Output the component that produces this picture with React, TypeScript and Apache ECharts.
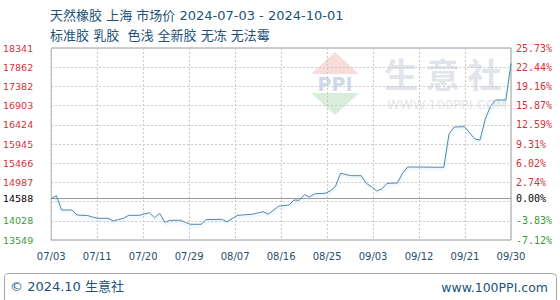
import React, { useEffect, useRef } from "react";
import * as echarts from "echarts";

// ---- data ----
const titleText = "天然橡胶 上海 市场价 2024-07-03 - 2024-10-01";
const subtitleText = "标准胶 乳胶  色浅 全新胶 无冻 无法霉";
const footerLeft = "© 2024.10 生意社";
const footerRight = "www.100PPI.com";

// day offset from 2024-07-03
const days = [0, 1, 2, 4, 5, 7, 8, 9, 11, 12, 13, 14, 15, 17, 19, 20, 21, 22, 23, 25, 26, 27, 29, 30, 33, 34, 36, 39, 41, 42, 44, 46, 47, 48, 49, 50, 51, 53, 54, 55, 56, 58, 60, 61, 62, 63, 64, 65, 67, 68, 69, 76, 77, 78, 80, 82, 83, 84, 85, 86, 88, 89];
const prices = [14588, 14652, 14298, 14298, 14173, 14160, 14123, 14091, 14091, 14023, 14060, 14091, 14165, 14165, 14230, 14105, 14215, 13990, 14040, 14043, 13986, 13941, 13941, 14058, 14066, 14003, 14163, 14193, 14255, 14193, 14390, 14423, 14547, 14540, 14680, 14622, 14702, 14715, 14772, 14879, 15214, 15154, 15154, 14964, 14879, 14772, 14822, 14964, 14972, 15214, 15371, 15364, 16195, 16370, 16377, 16070, 16045, 16560, 16880, 17043, 17043, 17959];

const spanDays = 89;
const xTickLabels = ["07/03", "07/11", "07/20", "07/29", "08/07", "08/16", "08/25", "09/03", "09/12", "09/21", "09/30"];

const baseValue = 14588;
const yMin = 13549;
const yMax = 18341;
const yGridValues = [13549, 14028, 14507, 14987, 15466, 15945, 16424, 16903, 17382, 17862, 18341];
const yLabelValues = [13549, 14028, 14588, 14987, 15466, 15945, 16424, 16903, 17382, 17862, 18341];
const pctLabels = ["-7.12%", "-3.83%", "0.00%", "2.74%", "6.02%", "9.31%", "12.59%", "15.87%", "19.16%", "22.44%", "25.73%"];

const UP = "#d3323a";
const DOWN = "#3a9a3a";
const BASE = "#000000";
const TEXT_BLUE = "#22527a";

function labelColor(v: any) {
  const n = Number(v);
  if (Math.abs(n - baseValue) < 0.5) return BASE;
  return n > baseValue ? UP : DOWN;
}

export default function App() {
  const ref = useRef<HTMLDivElement>(null);
  useEffect(() => {
    if (!ref.current) return;
    const chart = echarts.init(ref.current, null, { renderer: "svg" });
    const xTickPos = xTickLabels.map((_, i) => (i * spanDays) / (xTickLabels.length - 1));
    const cjk = "DejaVu Sans, 'Noto Sans CJK SC', sans-serif";
    chart.setOption({
      animation: false,
      backgroundColor: "#ffffff",
      grid: {
        left: 51,
        right: 49,
        top: 48,
        bottom: 60,
        show: true,
        borderColor: "#9a9a9a",
        borderWidth: 1,
        backgroundColor: "transparent",
      },
      xAxis: {
        type: "value",
        min: 0,
        max: spanDays,
        axisLine: { show: false },
        axisTick: { show: false, customValues: xTickPos },
        axisLabel: {
          customValues: xTickPos,
          formatter: (v: number) => xTickLabels[Math.round((v * (xTickLabels.length - 1)) / spanDays)],
          color: "#2a4c6c",
          fontSize: 10,
          fontFamily: "DejaVu Sans",
          margin: 11,
        },
        splitLine: { show: true, lineStyle: { type: [2, 2], color: "#c8c8c8", width: 1 } },
      },
      yAxis: [
        {
          type: "value",
          min: yMin,
          max: yMax,
          position: "left",
          axisLine: { show: false },
          axisTick: { show: false, customValues: yGridValues },
          splitLine: { show: true, lineStyle: { type: [2, 2], color: "#c8c8c8", width: 1 } },
          axisLabel: {
            customValues: yLabelValues,
            formatter: (v: number) => String(Math.round(v)),
            color: (v: any) => labelColor(v),
            fontSize: 9.5,
            fontFamily: "DejaVu Sans",
            margin: 18,
          },
        },
        {
          type: "value",
          min: yMin,
          max: yMax,
          position: "right",
          axisLine: { show: false },
          axisTick: { show: false, customValues: yGridValues },
          splitLine: { show: false },
          axisLabel: {
            customValues: yLabelValues,
            formatter: (v: number) => {
              const idx = yLabelValues.findIndex((y) => Math.abs(y - v) < 0.5);
              return idx >= 0 ? pctLabels[idx] : "";
            },
            color: (v: any) => labelColor(v),
            fontSize: 10,
            fontFamily: "DejaVu Sans Mono",
            margin: 5,
          },
        },
      ],
      series: [
        {
          type: "line",
          yAxisIndex: 0,
          data: days.map((d, i) => [d, prices[i]]),
          showSymbol: false,
          symbol: "none",
          lineStyle: {
            color: "#4e87ab",
            width: 1,
            shadowColor: "rgba(120,200,235,0.45)",
            shadowBlur: 3,
            shadowOffsetY: 2,
          },
          markLine: {
            silent: true,
            symbol: "none",
            label: { show: false },
            lineStyle: { color: "#9a9a9a", type: "solid", width: 1 },
            data: [{ yAxis: baseValue }],
          },
          z: 5,
        },
      ],
      graphic: [
        // watermark logo
        {
          type: "polygon",
          z: -10,
          silent: true,
          shape: { points: [[311, 74], [335, 52], [359, 74]] },
          style: { fill: "#f7dcda" },
        },
        {
          type: "polygon",
          z: -10,
          silent: true,
          shape: { points: [[311, 93], [359, 93], [335, 115]] },
          style: { fill: "#d9eed9" },
        },
        {
          type: "text",
          z: -10,
          silent: true,
          x: 335,
          y: 84,
          style: {
            text: "PPI",
            fill: "#cfd9ea",
            font: "bold 19px DejaVu Sans",
            align: "center",
            verticalAlign: "middle",
          },
        },
        {
          type: "text",
          z: -10,
          silent: true,
          x: 384,
          y: 73,
          style: {
            text: "生 意 社",
            fill: "#e1e4ea",
            font: "bold 34px 'Noto Sans CJK SC'",
            verticalAlign: "middle",
          },
        },
        {
          type: "text",
          z: -10,
          silent: true,
          x: 387,
          y: 104,
          style: {
            text: "WWW.100PPI.COM",
            fill: "#e3e5ea",
            font: "13px DejaVu Sans",
            verticalAlign: "middle",
          },
        },
        // titles
        {
          type: "text",
          x: 50,
          y: 15,
          style: {
            text: titleText,
            fill: TEXT_BLUE,
            font: "13px " + cjk,
            verticalAlign: "middle",
          },
        },
        {
          type: "text",
          x: 50,
          y: 35,
          style: {
            text: subtitleText,
            fill: TEXT_BLUE,
            font: "13px " + cjk,
            verticalAlign: "middle",
          },
        },
        // footer
        {
          type: "rect",
          shape: { x: 4.5, y: 273.5, width: 552, height: 40, r: 4 },
          style: { fill: "none", stroke: "#a8a8a8", lineWidth: 1 },
        },
        {
          type: "text",
          x: 10,
          y: 286,
          style: {
            text: footerLeft,
            fill: TEXT_BLUE,
            font: "13px " + cjk,
            verticalAlign: "middle",
          },
        },
        {
          type: "text",
          x: 548,
          y: 287,
          style: {
            text: footerRight,
            fill: TEXT_BLUE,
            font: "12.5px DejaVu Sans",
            align: "right",
            verticalAlign: "middle",
          },
        },
      ],
    });
    return () => chart.dispose();
  }, []);
  return (
    <div
      ref={ref}
      style={{ position: "fixed", left: 0, top: 0, width: 560, height: 300, background: "#fff" }}
    />
  );
}
